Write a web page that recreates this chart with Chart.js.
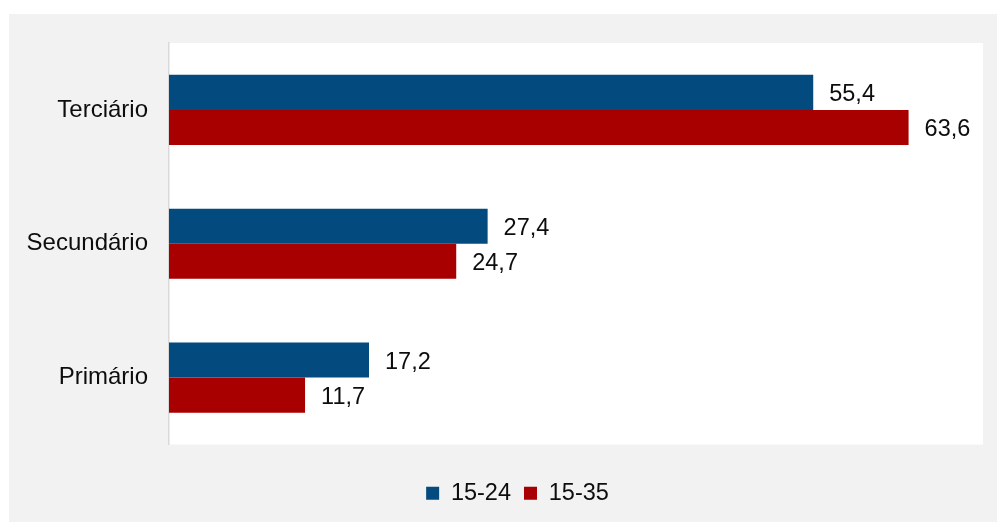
<!DOCTYPE html>
<html>
<head>
<meta charset="utf-8">
<script src="https://cdn.jsdelivr.net/npm/chart.js@4"></script>
<style>
  body { margin: 0; background: #fff; }
</style>
</head>
<body>
<canvas id="myChart" width="997" height="522"></canvas>
<script>
var categories = ['Terciário', 'Secundário', 'Primário'];
var seriesNames = ['15-24', '15-35'];
var values1524 = [55.4, 27.4, 17.2];
var values1535 = [63.6, 24.7, 11.7];
var colors = ['#034a7e', '#a80000'];

Chart.defaults.font.family = '"Liberation Sans", Arial, sans-serif';
Chart.defaults.font.size = 23.5;
Chart.defaults.color = '#0d0d0d';

// gray card behind the chart, white plot area
var background = {
  id: 'background',
  afterLayout: function (chart) {
    // legend sits a bit right of the canvas centre in the original
    chart.legend.left += 26;
    chart.legend.right += 26;
  },
  beforeDraw: function (chart) {
    var c = chart.ctx, a = chart.chartArea;
    c.save();
    c.fillStyle = '#ffffff';
    c.fillRect(0, 0, chart.width, chart.height);
    c.fillStyle = '#f2f2f2';
    c.fillRect(9, 14, chart.width - 9, chart.height - 14);
    c.fillStyle = '#ffffff';
    c.fillRect(a.left, a.top, a.right - a.left, a.bottom - a.top);
    c.restore();
  }
};

// value labels at the end of each bar
var valueLabels = {
  id: 'valueLabels',
  afterDatasetsDraw: function (chart) {
    var c = chart.ctx;
    c.save();
    c.font = '23.5px "Liberation Sans", Arial, sans-serif';
    c.fillStyle = '#0d0d0d';
    c.textAlign = 'left';
    c.textBaseline = 'middle';
    chart.data.datasets.forEach(function (ds, i) {
      chart.getDatasetMeta(i).data.forEach(function (bar, j) {
        c.fillText(ds.data[j].toFixed(1).replace('.', ','), bar.x + 16, bar.y + 2);
      });
    });
    c.restore();
  }
};

var ctx = document.getElementById('myChart').getContext('2d');
var myChart = new Chart(ctx, {
  type: 'bar',
  data: {
    labels: categories,
    datasets: [{
      label: seriesNames[0],
      data: values1524,
      backgroundColor: colors[0]
    }, {
      label: seriesNames[1],
      data: values1535,
      backgroundColor: colors[1]
    }]
  },
  options: {
    indexAxis: 'y',
    responsive: false,
    animation: false,
    categoryPercentage: 0.524,
    barPercentage: 1,
    layout: {
      padding: { top: 43, right: 14, left: 0, bottom: 7 }
    },
    scales: {
      x: {
        min: 0,
        max: 70,
        grid: { display: false },
        border: { display: false },
        ticks: { display: false },
        afterFit: function (s) { s.height = 24; }
      },
      y: {
        grid: { display: false },
        border: { display: true, color: '#d9d9d9', width: 1.5 },
        ticks: { padding: 13, color: '#0d0d0d', font: { size: 24 } },
        afterFit: function (s) { s.width = 169; }
      }
    },
    plugins: {
      legend: {
        position: 'bottom',
        labels: {
          boxWidth: 13,
          boxHeight: 13,
          padding: 13,
          color: '#0d0d0d'
        }
      },
      tooltip: { enabled: false }
    }
  },
  plugins: [background, valueLabels]
});
</script>
</body>
</html>
